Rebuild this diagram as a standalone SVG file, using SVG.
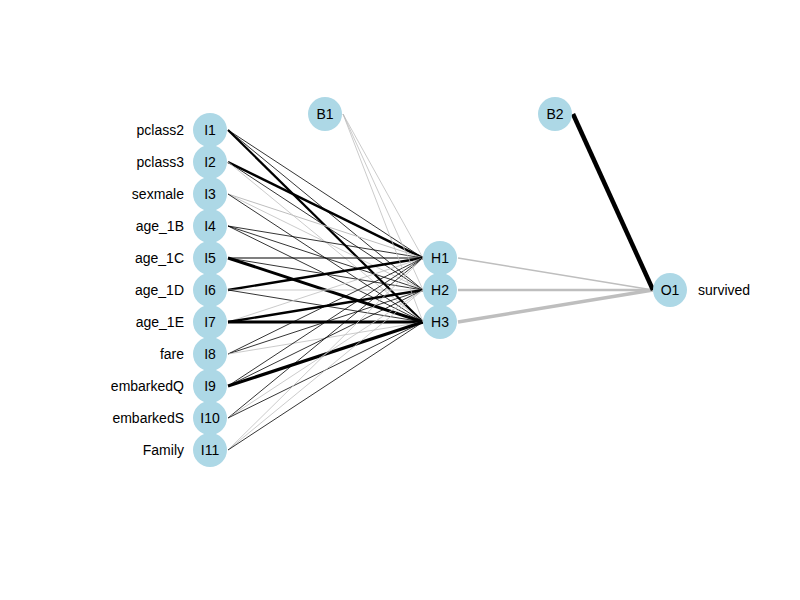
<svg xmlns="http://www.w3.org/2000/svg" width="800" height="600" viewBox="0 0 800 600">
<style>
.n{fill:#add8e6}
.t{font-family:"Liberation Sans",Arial,sans-serif;font-size:14px;fill:#000;dominant-baseline:central}
.c{text-anchor:middle}
.r{text-anchor:end}
.k{stroke:#000;fill:none}
.g{stroke:#bebebe;fill:none}
</style>
<rect width="800" height="600" fill="#fff"/>
<g id="connectors">
<line class="k" x1="228" y1="130" x2="423" y2="258" stroke-width="0.8"/>
<line class="k" x1="228" y1="130" x2="423" y2="290" stroke-width="0.8"/>
<line class="k" x1="228" y1="130" x2="423" y2="322" stroke-width="2.2"/>
<line class="k" x1="228" y1="162" x2="423" y2="258" stroke-width="2.5"/>
<line class="k" x1="228" y1="162" x2="423" y2="290" stroke-width="0.8"/>
<line class="g" x1="228" y1="162" x2="423" y2="322" stroke-width="0.8"/>
<line class="g" x1="228" y1="194" x2="423" y2="258" stroke-width="1"/>
<line class="g" x1="228" y1="194" x2="423" y2="290" stroke-width="0.8"/>
<line class="k" x1="228" y1="194" x2="423" y2="322" stroke-width="0.8"/>
<line class="k" x1="228" y1="226" x2="423" y2="258" stroke-width="0.8"/>
<line class="k" x1="228" y1="226" x2="423" y2="290" stroke-width="0.8"/>
<line class="k" x1="228" y1="226" x2="423" y2="322" stroke-width="0.8"/>
<line class="k" x1="228" y1="258" x2="423" y2="258" stroke-width="1.2"/>
<line class="k" x1="228" y1="258" x2="423" y2="290" stroke-width="0.8"/>
<line class="k" x1="228" y1="258" x2="423" y2="322" stroke-width="3"/>
<line class="k" x1="228" y1="290" x2="423" y2="258" stroke-width="2.3"/>
<line class="g" x1="228" y1="290" x2="423" y2="290" stroke-width="0.8"/>
<line class="k" x1="228" y1="290" x2="423" y2="322" stroke-width="0.8"/>
<line class="g" x1="228" y1="322" x2="423" y2="258" stroke-width="0.8"/>
<line class="k" x1="228" y1="322" x2="423" y2="290" stroke-width="2.3"/>
<line class="k" x1="228" y1="322" x2="423" y2="322" stroke-width="2.8"/>
<line class="k" x1="228" y1="354" x2="423" y2="258" stroke-width="0.8"/>
<line class="k" x1="228" y1="354" x2="423" y2="290" stroke-width="0.8"/>
<line class="g" x1="228" y1="354" x2="423" y2="322" stroke-width="0.8"/>
<line class="k" x1="228" y1="386" x2="423" y2="258" stroke-width="0.8"/>
<line class="k" x1="228" y1="386" x2="423" y2="290" stroke-width="0.8"/>
<line class="k" x1="228" y1="386" x2="423" y2="322" stroke-width="3.2"/>
<line class="k" x1="228" y1="418" x2="423" y2="258" stroke-width="0.8"/>
<line class="g" x1="228" y1="418" x2="423" y2="290" stroke-width="0.8"/>
<line class="k" x1="228" y1="418" x2="423" y2="322" stroke-width="0.8"/>
<line class="g" x1="228" y1="450" x2="423" y2="258" stroke-width="0.8"/>
<line class="g" x1="228" y1="450" x2="423" y2="290" stroke-width="0.8"/>
<line class="k" x1="228" y1="450" x2="423" y2="322" stroke-width="0.8"/>
<line class="g" x1="343" y1="114" x2="423" y2="258" stroke-width="0.8"/>
<line class="g" x1="343" y1="114" x2="423" y2="290" stroke-width="0.8"/>
<line class="g" x1="343" y1="114" x2="423" y2="322" stroke-width="0.8"/>
<line class="g" x1="458" y1="258" x2="653" y2="290" stroke-width="1.5"/>
<line class="g" x1="458" y1="290" x2="653" y2="290" stroke-width="2.5"/>
<line class="g" x1="458" y1="322" x2="653" y2="290" stroke-width="3.5"/>
<line class="k" x1="573" y1="114" x2="653" y2="290" stroke-width="4.5"/>
</g>
<g id="I1"><circle class="n" cx="210" cy="130" r="17"/><text class="t c" x="210" y="130">I1</text><text class="t r" x="184" y="130">pclass2</text></g>
<g id="I2"><circle class="n" cx="210" cy="162" r="17"/><text class="t c" x="210" y="162">I2</text><text class="t r" x="184" y="162">pclass3</text></g>
<g id="I3"><circle class="n" cx="210" cy="194" r="17"/><text class="t c" x="210" y="194">I3</text><text class="t r" x="184" y="194">sexmale</text></g>
<g id="I4"><circle class="n" cx="210" cy="226" r="17"/><text class="t c" x="210" y="226">I4</text><text class="t r" x="184" y="226">age_1B</text></g>
<g id="I5"><circle class="n" cx="210" cy="258" r="17"/><text class="t c" x="210" y="258">I5</text><text class="t r" x="184" y="258">age_1C</text></g>
<g id="I6"><circle class="n" cx="210" cy="290" r="17"/><text class="t c" x="210" y="290">I6</text><text class="t r" x="184" y="290">age_1D</text></g>
<g id="I7"><circle class="n" cx="210" cy="322" r="17"/><text class="t c" x="210" y="322">I7</text><text class="t r" x="184" y="322">age_1E</text></g>
<g id="I8"><circle class="n" cx="210" cy="354" r="17"/><text class="t c" x="210" y="354">I8</text><text class="t r" x="184" y="354">fare</text></g>
<g id="I9"><circle class="n" cx="210" cy="386" r="17"/><text class="t c" x="210" y="386">I9</text><text class="t r" x="184" y="386">embarkedQ</text></g>
<g id="I10"><circle class="n" cx="210" cy="418" r="17"/><text class="t c" x="210" y="418">I10</text><text class="t r" x="184" y="418">embarkedS</text></g>
<g id="I11"><circle class="n" cx="210" cy="450" r="17"/><text class="t c" x="210" y="450">I11</text><text class="t r" x="184" y="450">Family</text></g>
<g id="B1"><circle class="n" cx="325" cy="114" r="17"/><text class="t c" x="325" y="114">B1</text></g>
<g id="H1"><circle class="n" cx="440" cy="258" r="17"/><text class="t c" x="440" y="258">H1</text></g>
<g id="H2"><circle class="n" cx="440" cy="290" r="17"/><text class="t c" x="440" y="290">H2</text></g>
<g id="H3"><circle class="n" cx="440" cy="322" r="17"/><text class="t c" x="440" y="322">H3</text></g>
<g id="B2"><circle class="n" cx="555" cy="114" r="17"/><text class="t c" x="555" y="114">B2</text></g>
<g id="O1"><circle class="n" cx="670" cy="290" r="17"/><text class="t c" x="670" y="290">O1</text><text class="t" x="698" y="290">survived</text></g>
</svg>
